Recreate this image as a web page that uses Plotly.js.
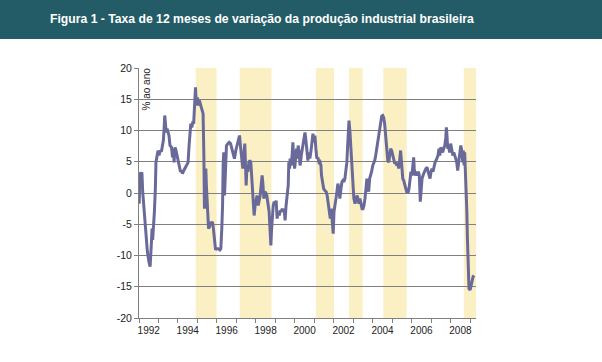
<!DOCTYPE html>
<html>
<head>
<meta charset="utf-8">
<script src="https://cdn.plot.ly/plotly-3.0.1.min.js"></script>
<style>html,body{margin:0;padding:0;background:#fff;}#chart{width:602px;height:362px;}</style>
</head>
<body>
<div id="chart"></div>
<script>
// Decimal-year dates of the monthly observations
const dates = [
1992.01,1992.05,1992.10,1992.15,1992.19,1992.26,1992.34,1992.43,1992.51,1992.57,1992.64,1992.67,1992.70,1992.74,1992.79,1992.84,1992.87,1992.93,1992.98,1993.03,
1993.08,1993.15,1993.20,1993.25,1993.29,1993.32,1993.36,1993.39,1993.44,1993.49,1993.54,1993.59,1993.67,1993.72,1993.77,1993.80,1993.85,1993.90,1993.95,1994.00,
1994.06,1994.13,1994.18,1994.23,1994.30,1994.35,1994.44,1994.52,1994.57,1994.61,1994.66,1994.71,1994.76,1994.81,1994.86,1994.90,1994.93,1994.97,1995.00,1995.05,
1995.10,1995.16,1995.21,1995.29,1995.33,1995.36,1995.39,1995.43,1995.46,1995.50,1995.53,1995.57,1995.62,1995.67,1995.72,1995.77,1995.82,1995.88,1995.93,1995.98,
1996.06,1996.15,1996.20,1996.25,1996.29,1996.32,1996.35,1996.39,1996.42,1996.46,1996.49,1996.56,1996.63,1996.70,1996.76,1996.83,1996.90,1996.97,1997.04,1997.11,
1997.16,1997.19,1997.24,1997.28,1997.33,1997.37,1997.40,1997.43,1997.47,1997.50,1997.54,1997.59,1997.64,1997.69,1997.74,1997.79,1997.86,1997.91,1997.96,1998.01,
1998.06,1998.12,1998.17,1998.22,1998.27,1998.32,1998.36,1998.41,1998.46,1998.51,1998.56,1998.61,1998.68,1998.73,1998.77,1998.80,1998.84,1998.89,1998.94,1998.99,
1999.04,1999.09,1999.14,1999.20,1999.25,1999.30,1999.35,1999.40,1999.45,1999.50,1999.55,1999.61,1999.66,1999.69,1999.73,1999.76,1999.81,1999.86,1999.90,1999.93,
1999.99,2000.04,2000.09,2000.14,2000.17,2000.22,2000.27,2000.33,2000.38,2000.43,2000.48,2000.52,2000.57,2000.62,2000.67,2000.72,2000.77,2000.82,2000.88,2000.93,
2000.98,2001.03,2001.08,2001.13,2001.18,2001.24,2001.29,2001.34,2001.37,2001.43,2001.48,2001.54,2001.61,2001.66,2001.71,2001.76,2001.82,2001.87,2001.92,2001.97,
2002.01,2002.06,2002.11,2002.16,2002.21,2002.26,2002.31,2002.37,2002.42,2002.47,2002.52,2002.57,2002.62,2002.67,2002.73,2002.78,2002.83,2002.88,2002.93,2002.98,
2003.03,2003.09,2003.14,2003.19,2003.24,2003.29,2003.34,2003.39,2003.45,2003.50,2003.55,2003.60,2003.65,2003.70,2003.74,2003.79,2003.84,2003.89,2003.94,2004.00,
2004.05,2004.10,2004.15,2004.20,2004.25,2004.30,2004.36,2004.41,2004.46,2004.51,2004.56,2004.61,2004.66,2004.71,2004.77,2004.82,2004.87,2004.92,2004.97,2005.02,
2005.07,2005.13,2005.18,2005.23,2005.28,2005.33,2005.38,2005.43,2005.49,2005.54,2005.59,2005.64,2005.69,2005.74,2005.77,2005.81,2005.86,2005.91,2005.96,2006.01,
2006.07,2006.10,2006.13,2006.18,2006.24,2006.29,2006.34,2006.39,2006.44,2006.48,2006.53,2006.58,2006.63,2006.68,2006.73,2006.79,2006.84,2006.89,2006.94,2006.99,
2007.04,2007.09,2007.15,2007.20,2007.25,2007.30,2007.35,2007.40,2007.44,2007.49,2007.54,2007.59,2007.64,2007.70,2007.75,2007.78,2007.81,2007.85,2007.90,2007.95,
2008.00,2008.06,2008.11,2008.16,2008.21,2008.26,2008.31,2008.36,2008.41,2008.47,2008.52,2008.57,2008.62,2008.65,2008.69,2008.72,2008.75,2008.79,2008.83,2008.86,
2008.89,2008.94,2009.00,2009.05,2009.10,2009.15,2009.20
];
// 12-month rate of change of industrial production (% per year)
const rate = [
-1.7,3.3,2.9,3.3,0.2,-3.0,-6.2,-9.4,-11.0,-11.8,-7.8,-5.7,-7.5,-6.0,-3.0,0.7,4.9,6.0,6.8,6.0,
6.8,6.6,7.3,8.4,10.3,12.4,11.1,9.7,10.3,9.7,9.2,7.6,7.3,5.7,7.1,4.9,7.3,6.8,6.0,4.9,
3.9,3.4,3.6,3.1,3.6,3.9,4.4,4.9,7.6,10.0,11.1,10.5,11.3,11.3,14.5,16.9,15.0,14.0,15.3,14.0,
14.8,14.2,13.8,12.7,6.0,-2.5,3.4,3.9,1.2,-0.9,-3.6,-5.7,-5.4,-4.6,-5.2,-4.6,-5.7,-7.8,-9.1,-8.9,
-8.9,-9.1,-8.9,-5.7,-2.0,4.4,6.5,-0.4,2.8,6.5,7.6,7.9,8.1,7.9,7.3,6.5,5.5,6.8,7.9,8.4,
9.2,8.1,6.5,4.4,3.9,5.5,7.6,7.9,4.4,1.2,3.9,3.4,4.9,5.2,4.9,2.8,-1.4,-3.6,-2.0,-0.9,
-0.4,-2.0,-1.4,-0.4,1.2,2.8,1.5,-0.9,0.2,0.0,-0.4,-1.4,-3.0,-6.0,-8.4,-6.2,-3.0,-2.0,-1.4,-2.0,
-1.2,-4.1,-3.0,-3.6,-2.8,-3.0,-2.5,-3.0,-2.5,-4.4,-2.0,-0.1,1.2,4.9,3.9,5.5,4.4,6.0,8.1,6.0,
3.9,5.5,7.1,5.5,7.6,6.5,4.4,6.0,7.1,8.1,8.7,9.7,8.4,7.1,5.2,6.5,5.5,6.5,8.7,9.5,
8.1,9.2,7.1,5.5,5.7,4.9,5.0,4.4,2.8,1.2,0.7,0.4,0.2,-0.4,-1.4,-3.0,-4.1,-2.5,-4.6,-6.5,
-3.0,-1.5,-0.9,0.2,1.5,0.7,-0.9,0.7,1.8,2.0,1.8,2.3,3.4,4.9,8.7,11.6,9.7,6.5,3.9,1.2,
-0.9,-1.7,-0.9,-0.4,-0.9,-1.7,-0.9,-2.0,-2.5,-2.5,-2.0,-0.9,0.7,2.3,1.2,0.2,2.3,2.8,3.4,4.4,
4.7,5.2,6.0,7.1,7.6,8.9,10.5,11.6,12.3,12.4,12.1,11.1,8.9,6.8,5.2,4.9,6.0,7.1,6.8,6.0,
5.5,4.7,4.9,4.4,4.9,3.9,5.2,6.8,4.4,2.3,2.0,1.2,0.4,0.2,0.2,0.0,0.7,2.3,3.4,2.8,
4.4,5.7,3.9,2.8,3.4,2.8,3.4,2.8,-1.4,1.2,2.3,2.8,3.4,3.6,3.9,4.1,3.4,2.8,2.3,3.4,
3.9,3.4,4.4,4.9,5.2,5.5,6.0,7.1,6.0,7.3,6.8,6.5,7.1,7.6,8.9,10.5,9.2,7.1,7.3,6.5,
7.9,7.1,6.0,6.5,5.7,5.5,4.9,3.6,4.9,6.5,7.6,6.8,4.9,6.8,4.4,6.5,4.4,0.2,-3.0,-7.3,
-11.5,-15.3,-15.5,-14.7,-14.2,-13.4,-13.2
];
// Shaded periods (decimal years)
const bandStart = [1994.91, 1997.17, 2001.08, 2002.78, 2004.54, 2008.67];
const bandEnd   = [1995.98, 1998.80, 2002.01, 2003.48, 2005.74, 2009.30];
// Axis labels
const tickYears = [1992,1994,1996,1998,2000,2002,2004,2006,2008];
const xRange = [1992, 2009.30];
const yTicks = [-20,-15,-10,-5,0,5,10,15,20];
const titleText = 'Figura 1 - Taxa de 12 meses de variação da produção industrial brasileira';
const unitText = '% ao ano';

const W = 602, H = 362;
const M = {l: 139, r: 126, t: 68, b: 44};
const pw = W - M.l - M.r, ph = H - M.t - M.b;

const shapes = [];
// title bar: from top of page down to 39 px
shapes.push({type:'rect', xref:'paper', yref:'paper', layer:'below',
  x0: -M.l/pw, x1: (W - M.l)/pw,
  y0: (H - M.b - 39)/ph, y1: (H - M.b)/ph,
  fillcolor:'#235C66', line:{width:0}});
for (let i = 0; i < bandStart.length; i++) {
  shapes.push({type:'rect', xref:'x', yref:'paper', layer:'below',
    x0: bandStart[i], x1: bandEnd[i], y0: 0, y1: 1,
    fillcolor:'#FBF0C4', line:{width:0}});
}

const trace = {
  x: dates, y: rate, type:'scatter', mode:'lines',
  line:{color:'#6A6A9A', width:3}, hoverinfo:'skip'
};

const layout = {
  width: W, height: H,
  margin: M,
  paper_bgcolor:'#ffffff', plot_bgcolor:'rgba(0,0,0,0)',
  showlegend:false,
  font:{family:'Arial, "Liberation Sans", sans-serif', color:'#222'},
  title:{text:'<b>' + titleText + '</b>', xref:'container', yref:'container',
    x: 50/W, xanchor:'left', y: 1 - 18.5/H, yanchor:'middle',
    font:{size:12.2, color:'#ffffff', family:'Arial, "Liberation Sans", sans-serif'}},
  xaxis:{
    range: xRange, type:'linear',
    tickmode:'array', tickvals: tickYears.map(v => v + 0.5), ticktext: tickYears.map(String),
    ticks:'', showgrid:false, zeroline:false, ticklabelstandoff: 3,
    showline:true, linecolor:'#808080', linewidth:1,
    tickfont:{size:10, color:'#222'},
    minor:{tickmode:'linear', tick0:1992, dtick:1, ticks:'outside', ticklen:4, tickcolor:'#808080', showgrid:false}
  },
  yaxis:{
    range:[-20,20], tickmode:'array', tickvals: yTicks, ticktext: yTicks.map(String),
    ticks:'outside', ticklen:4, tickcolor:'#808080',
    showgrid:true, gridcolor:'#808080', gridwidth:1, zeroline:false,
    showline:true, linecolor:'#808080', linewidth:1,
    tickfont:{size:10.5, color:'#222'}
  },
  shapes: shapes,
  annotations:[{text: unitText, xref:'paper', yref:'paper',
    x: 7.5/pw, y: (H - M.b - 89)/ph, textangle:-90, showarrow:false,
    xanchor:'center', yanchor:'middle', font:{size:10, color:'#222'}}]
};

Plotly.newPlot('chart', [trace], layout, {staticPlot:true, displayModeBar:false});
</script>
</body>
</html>
